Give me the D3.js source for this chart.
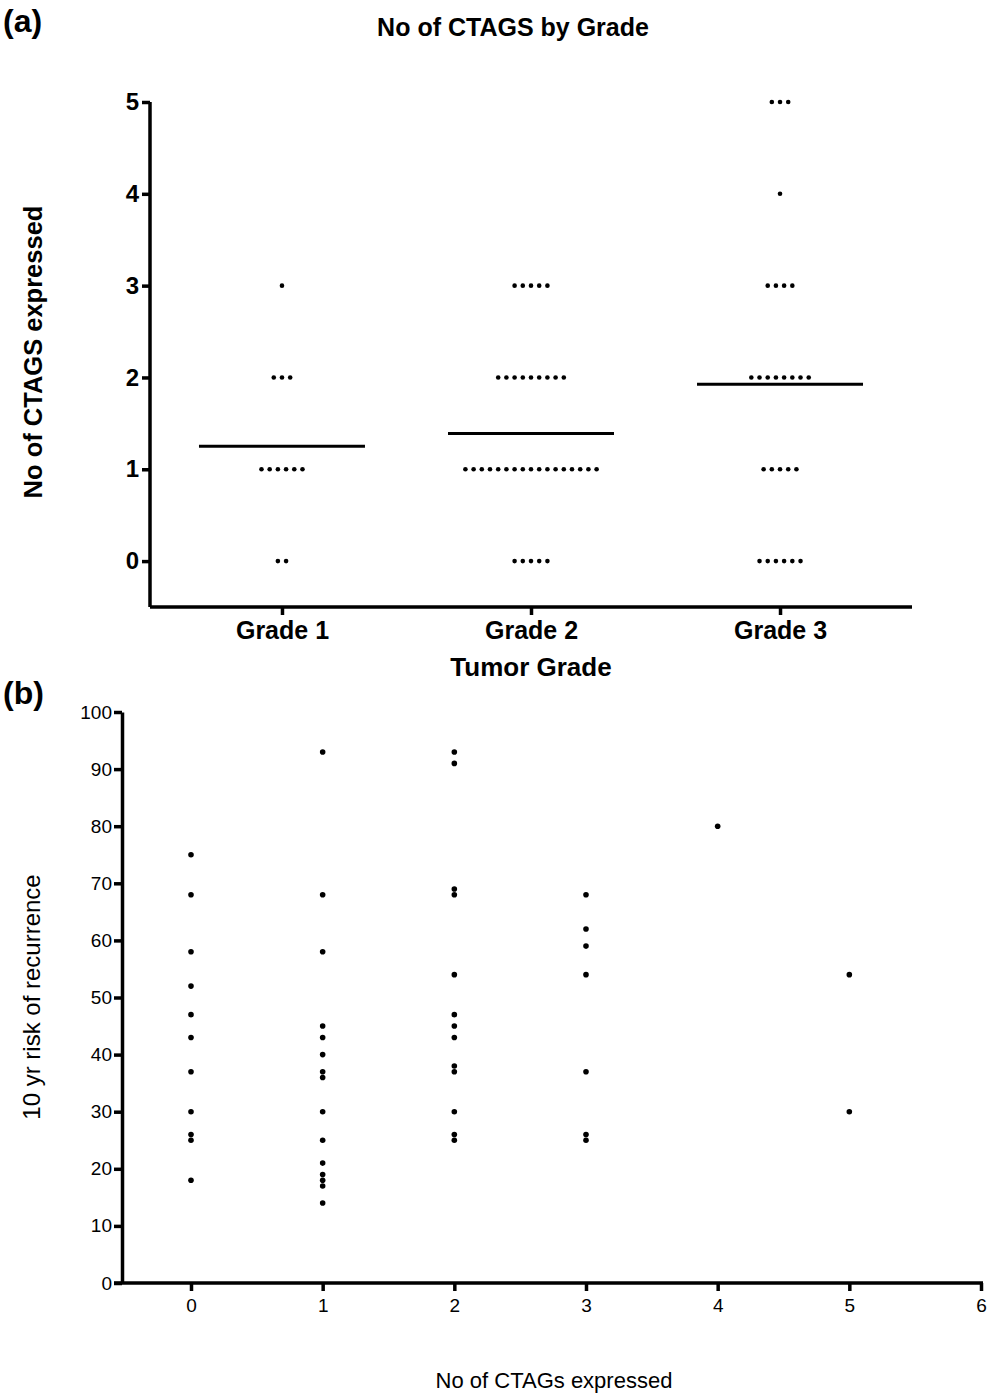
<!DOCTYPE html>
<html><head><meta charset="utf-8">
<script src="https://cdn.jsdelivr.net/npm/d3@7"></script>
<style>body{margin:0;background:#fff;} text{font-family:"Liberation Sans",Arial,sans-serif;fill:#000;}</style>
</head><body>
<svg id="c" width="1004" height="1399"></svg>
<script>
// Panel (a) data: number of CTAGs expressed -> count of tumors, per grade
const grades = ["Grade 1", "Grade 2", "Grade 3"];
const ctagLevels = [0, 1, 2, 3, 4, 5];
const grade1Counts = [2, 6, 3, 1, 0, 0];
const grade2Counts = [5, 17, 9, 5, 0, 0];
const grade3Counts = [6, 5, 8, 4, 1, 3];
const aYTicks = [0, 1, 2, 3, 4, 5];

// Panel (b) data: 10-yr recurrence risk by number of CTAGs expressed
const ctag0 = [75, 68, 58, 52, 47, 43, 37, 30, 26, 25, 18];
const ctag1 = [93, 68, 58, 45, 43, 40, 37, 36, 30, 25, 21, 19, 18, 17, 14];
const ctag2 = [93, 91, 69, 68, 54, 47, 45, 43, 38, 37, 30, 26, 25];
const ctag3 = [68, 62, 59, 54, 37, 26, 25];
const ctag4 = [80];
const ctag5 = [54, 30];
const bXTicks = [0, 1, 2, 3, 4, 5, 6];
const bYTicks = [0, 10, 20, 30, 40, 50, 60, 70, 80, 90, 100];

const svg = d3.select("#c");
const FF = "Liberation Sans, Arial, sans-serif";

function styleAxis(g, fs, bold) {
  g.select(".domain").style("stroke-width", "3.5px").style("stroke", "#000");
  g.selectAll(".tick line").style("stroke-width", "3.5px").style("stroke", "#000");
  g.selectAll(".tick text").attr("font-size", fs).attr("font-family", FF).attr("font-weight", bold ? "bold" : "normal");
}

// ---------- Panel (a) ----------
const ax = d3.scalePoint().domain(grades).range([150, 912]).padding(0.53);
const ay = d3.scaleLinear().domain([-0.5, 5]).range([607, 102]);
const ga = svg.append("g");

ga.append("text").attr("x", 3).attr("y", 32).attr("font-size", 32).attr("font-weight", "bold").text("(a)");
ga.append("text").attr("x", 513).attr("y", 36).attr("text-anchor", "middle").attr("font-size", 25).attr("font-weight", "bold").text("No of CTAGS by Grade");

const ayAxis = ga.append("g").attr("transform", "translate(150,0)")
  .call(d3.axisLeft(ay).tickValues(aYTicks).tickFormat(d3.format("d")).tickSize(8).tickSizeOuter(0));
ayAxis.select(".domain").attr("d", `M0,${ay(5)}V${ay(-0.5)}`);
styleAxis(ayAxis, 24, true);
ayAxis.selectAll(".tick text").attr("x", -11);

const axAxis = ga.append("g").attr("transform", "translate(0,607)")
  .call(d3.axisBottom(ax).tickSize(8).tickSizeOuter(0));
axAxis.select(".domain").attr("d", `M150,0H912`);
styleAxis(axAxis, 25, true);
axAxis.selectAll(".tick text").attr("y", 14);

ga.append("text").attr("x", 531).attr("y", 676).attr("text-anchor", "middle").attr("font-size", 26).attr("font-weight", "bold").text("Tumor Grade");
ga.append("text").attr("transform", "translate(42,352) rotate(-90)").attr("text-anchor", "middle").attr("font-size", 25.5).attr("font-weight", "bold").text("No of CTAGS expressed");

const gradeCounts = [grade1Counts, grade2Counts, grade3Counts];
const dotStep = 8.2;
gradeCounts.forEach((counts, gi) => {
  const cx = ax(grades[gi]);
  let n = 0, s = 0;
  counts.forEach((c, li) => {
    const lvl = ctagLevels[li];
    n += c; s += c * lvl;
    for (let k = 0; k < c; k++) {
      ga.append("circle").attr("cx", cx + (k - (c - 1) / 2) * dotStep).attr("cy", ay(lvl)).attr("r", 2.3).attr("fill", "#000");
    }
  });
  const mean = s / n;
  ga.append("line").attr("x1", cx - 83).attr("x2", cx + 83).attr("y1", ay(mean)).attr("y2", ay(mean)).style("stroke", "#000").style("stroke-width", "3px");
});

// ---------- Panel (b) ----------
const bx = d3.scaleLinear().domain([-0.524, 6]).range([122, 981]);
const by = d3.scaleLinear().domain([0, 100]).range([1283, 712]);
const gb = svg.append("g");

gb.append("text").attr("x", 3).attr("y", 704).attr("font-size", 32).attr("font-weight", "bold").text("(b)");

const byAxis = gb.append("g").attr("transform", "translate(122,0)")
  .call(d3.axisLeft(by).tickValues(bYTicks).tickSize(8).tickSizeOuter(0));
styleAxis(byAxis, 19, false);
byAxis.selectAll(".tick text").attr("x", -10);

const bxAxis = gb.append("g").attr("transform", "translate(0,1283)")
  .call(d3.axisBottom(bx).tickValues(bXTicks).tickFormat(d3.format("d")).tickSize(8).tickSizeOuter(0));
bxAxis.select(".domain").attr("d", `M114,0H983`);
styleAxis(bxAxis, 19, false);
bxAxis.selectAll(".tick text").attr("y", 16);

gb.append("text").attr("x", 554).attr("y", 1388).attr("text-anchor", "middle").attr("font-size", 22).text("No of CTAGs expressed");
gb.append("text").attr("transform", "translate(40,997) rotate(-90)").attr("text-anchor", "middle").attr("font-size", 24).text("10 yr risk of recurrence");

const bSeries = [ctag0, ctag1, ctag2, ctag3, ctag4, ctag5];
bSeries.forEach((vals, i) => {
  gb.selectAll(null).data(vals).enter().append("circle")
    .attr("cx", bx(i)).attr("cy", d => by(d)).attr("r", 2.8).attr("fill", "#000");
});
</script>
</body></html>
